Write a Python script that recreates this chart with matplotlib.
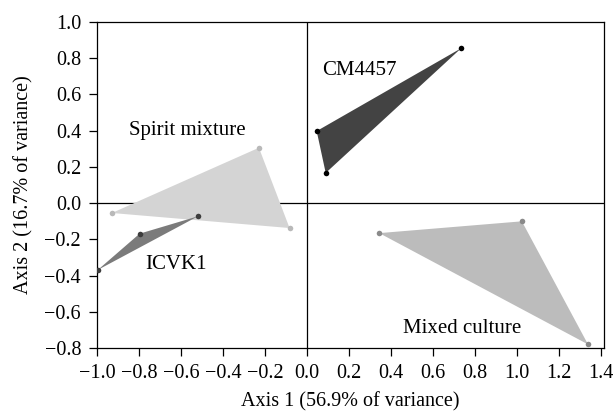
import matplotlib
matplotlib.use('Agg')
import matplotlib.pyplot as plt

plt.rcParams['font.family'] = ['Liberation Serif', 'DejaVu Serif']

# PCA scores per group (axis 1, axis 2)
cm4457_x = [0.734, 0.046, 0.089]
cm4457_y = [0.855, 0.398, 0.167]
spirit_x = [-0.229, -0.929, -0.083]
spirit_y = [0.306, -0.054, -0.137]
icvk1_x = [-0.519, -0.797, -0.996]
icvk1_y = [-0.072, -0.168, -0.368]
mixed_x = [0.344, 1.023, 1.338]
mixed_y = [-0.165, -0.100, -0.779]

groups = [
    ('Spirit mixture', spirit_x, spirit_y, '#d4d4d4', '#b9b9b9', (-0.847, 0.40)),
    ('ICVK1', icvk1_x, icvk1_y, '#7b7b7b', '#3c3c3c', (-0.77, -0.339)),
    ('CM4457', cm4457_x, cm4457_y, '#434343', '#000000', (0.07, 0.73)),
    ('Mixed culture', mixed_x, mixed_y, '#bcbcbc', '#8a8a8a', (0.455, -0.689)),
]

fig = plt.figure(figsize=(6.14, 4.15), dpi=100)
ax = fig.add_axes([0.158, 0.161, 0.826, 0.786])

ax.axhline(0, color='k', lw=0.9, zorder=1)
ax.axvline(0, color='k', lw=0.9, zorder=1)

for name, xs, ys, fill, pt, (tx, ty) in groups:
    ax.fill(xs, ys, color=fill, lw=0, zorder=2)
    ax.plot(xs, ys, 'o', color=pt, markersize=4, markeredgewidth=0, zorder=3)
    ax.text(tx, ty, name, fontsize=15, va='center', ha='left', zorder=4)

ax.set_xlim(-1.0, 1.415)
ax.set_ylim(-0.8, 1.0)
ax.set_xticks([-1.0, -0.8, -0.6, -0.4, -0.2, 0.0, 0.2, 0.4, 0.6, 0.8, 1.0, 1.2, 1.4])
ax.set_yticks([-0.8, -0.6, -0.4, -0.2, 0.0, 0.2, 0.4, 0.6, 0.8, 1.0])
ax.tick_params(direction='out', length=5.5, width=0.9, pad=6, labelsize=14.5, colors='k')
for s in ax.spines.values():
    s.set_linewidth(0.9)

ax.set_xlabel('Axis 1 (56.9% of variance)', fontsize=14.5)
ax.set_ylabel('Axis 2 (16.7% of variance)', fontsize=14.5)
ax.xaxis.set_label_coords(0.5, -0.135)
ax.yaxis.set_label_coords(-0.125, 0.5)

fig.savefig('out.png', dpi=100)
